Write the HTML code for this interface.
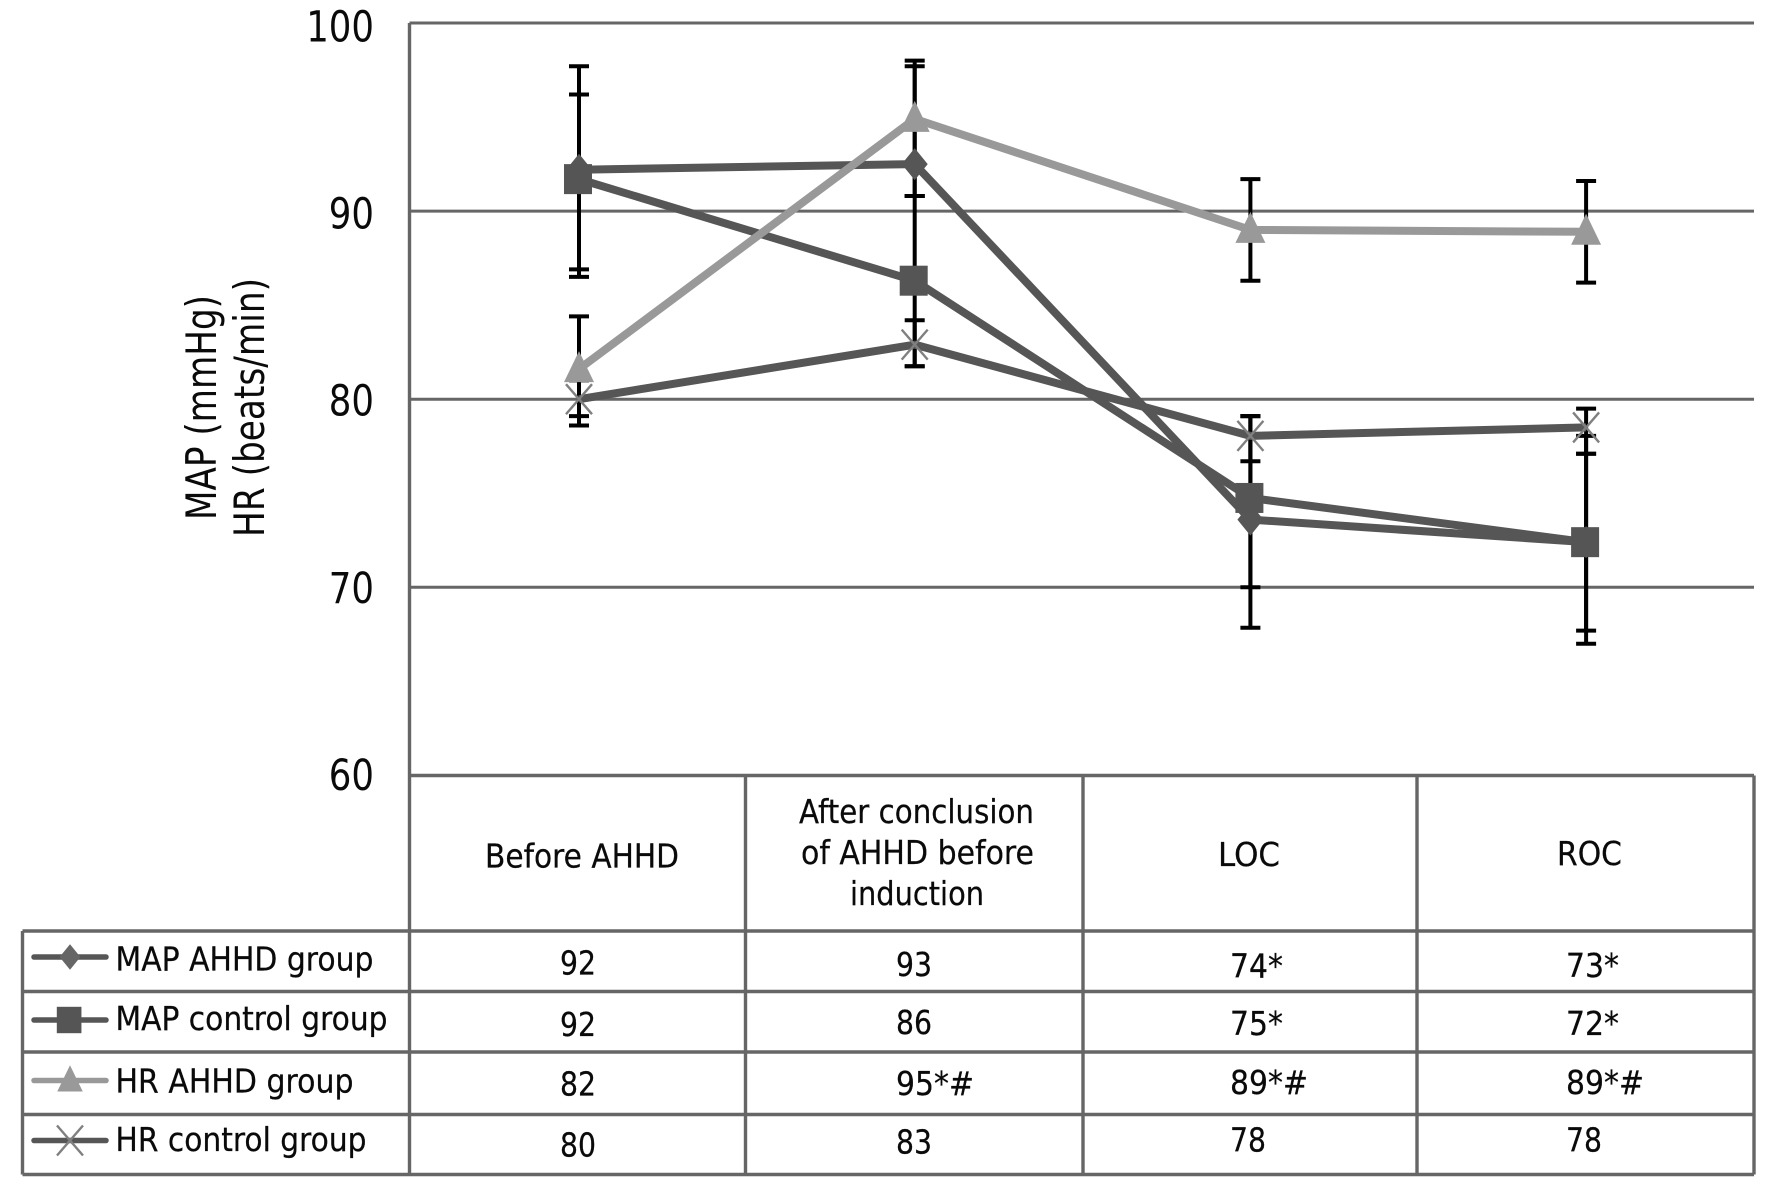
<!DOCTYPE html>
<html lang="en">
<head>
<meta charset="utf-8">
<title>MAP and HR over time</title>
<style>
html,body{margin:0;padding:0;background:#fff;width:1772px;height:1204px;overflow:hidden}
svg{display:block}
text{font-family:"DejaVu Sans","Liberation Sans",sans-serif;fill:#0a0a0a}
.cell{font-size:33px;stroke:#0a0a0a;stroke-width:.25px}
</style>
</head>
<body>
<svg id="chart" xmlns="http://www.w3.org/2000/svg" width="1772" height="1204" viewBox="0 0 1772 1204">
  <g id="grid"></g>
  <g id="table-lines" stroke="#666" stroke-width="3.4" fill="none">
    <path d="M409.5 775.5H1754M22.5 931H1754M22.5 991.5H1754M22.5 1052H1754M22.5 1114.5H1754M22.5 1174.5H1754"/>
    <path d="M22.5 931V1174.5M409.5 23V1174.5M745.5 775.5V1174.5M1083 775.5V1174.5M1417 775.5V1174.5M1754 775.5V1174.5"/>
  </g>
  <g id="y-ticks"></g>
  <g id="errors"></g>
  <g id="series"></g>

  <text transform="translate(216 520) rotate(-90)" font-size="42" textLength="225" lengthAdjust="spacingAndGlyphs">MAP (mmHg)</text>
  <text transform="translate(264 537) rotate(-90)" font-size="42" textLength="259" lengthAdjust="spacingAndGlyphs">HR (beats/min)</text>

  <g>
    <text class="cell" x="485" y="867.5" textLength="194" lengthAdjust="spacingAndGlyphs">Before AHHD</text>
    <text class="cell" x="799" y="823" textLength="235" lengthAdjust="spacingAndGlyphs">After conclusion</text>
    <text class="cell" x="801" y="864" textLength="233" lengthAdjust="spacingAndGlyphs">of AHHD before</text>
    <text class="cell" x="850" y="905" textLength="134" lengthAdjust="spacingAndGlyphs">induction</text>
    <text class="cell" x="1218" y="866" textLength="62" lengthAdjust="spacingAndGlyphs">LOC</text>
    <text class="cell" x="1557" y="865" textLength="65" lengthAdjust="spacingAndGlyphs">ROC</text>
  </g>

  <g>
    <text class="cell" x="115.5" y="970.5" textLength="258" lengthAdjust="spacingAndGlyphs">MAP AHHD group</text>
    <text class="cell" x="115.5" y="1030" textLength="272" lengthAdjust="spacingAndGlyphs">MAP control group</text>
    <text class="cell" x="115.5" y="1092.5" textLength="238" lengthAdjust="spacingAndGlyphs">HR AHHD group</text>
    <text class="cell" x="115.5" y="1151" textLength="251" lengthAdjust="spacingAndGlyphs">HR control group</text>
    <g id="legend-marks"></g>
  </g>

  <g>
    <text class="cell" x="560" y="974.5" textLength="36" lengthAdjust="spacingAndGlyphs">92</text>
    <text class="cell" x="560" y="1036" textLength="36" lengthAdjust="spacingAndGlyphs">92</text>
    <text class="cell" x="560" y="1095.5" textLength="36" lengthAdjust="spacingAndGlyphs">82</text>
    <text class="cell" x="560" y="1156.5" textLength="36" lengthAdjust="spacingAndGlyphs">80</text>

    <text class="cell" x="896" y="976" textLength="36" lengthAdjust="spacingAndGlyphs">93</text>
    <text class="cell" x="896" y="1034" textLength="36" lengthAdjust="spacingAndGlyphs">86</text>
    <text class="cell" x="896" y="1095" textLength="78" lengthAdjust="spacingAndGlyphs">95*#</text>
    <text class="cell" x="896" y="1153.5" textLength="36" lengthAdjust="spacingAndGlyphs">83</text>

    <text class="cell" x="1230" y="977.5" textLength="53" lengthAdjust="spacingAndGlyphs">74*</text>
    <text class="cell" x="1230" y="1035" textLength="53" lengthAdjust="spacingAndGlyphs">75*</text>
    <text class="cell" x="1230" y="1094" textLength="78" lengthAdjust="spacingAndGlyphs">89*#</text>
    <text class="cell" x="1230" y="1151.5" textLength="36" lengthAdjust="spacingAndGlyphs">78</text>

    <text class="cell" x="1566" y="977" textLength="53" lengthAdjust="spacingAndGlyphs">73*</text>
    <text class="cell" x="1566" y="1035" textLength="53" lengthAdjust="spacingAndGlyphs">72*</text>
    <text class="cell" x="1566" y="1094" textLength="78" lengthAdjust="spacingAndGlyphs">89*#</text>
    <text class="cell" x="1566" y="1151.5" textLength="36" lengthAdjust="spacingAndGlyphs">78</text>
  </g>
</svg>

<script>
var categories = ['Before AHHD', 'After conclusion of AHHD before induction', 'LOC', 'ROC'];
var yTicks = [100, 90, 80, 70, 60];

var mapAhhd = [92.2, 92.5, 73.6, 72.4];
var mapControl = [91.7, 86.3, 74.75, 72.4];
var hrAhhd = [81.6, 94.9, 89.0, 88.9];
var hrControl = [80.0, 82.9, 78.05, 78.5];

var mapAhhdHigh = [96.2, 97.7, 79.1, 78.05];
var mapAhhdLow = [86.5, 90.8, 67.85, 67.0];
var mapControlHigh = [97.7, 90.8, 79.1, 77.1];
var mapControlLow = [86.9, 81.75, 70.0, 67.7];
var hrAhhdHigh = [84.4, 98.0, 91.7, 91.6];
var hrAhhdLow = [78.6, 90.8, 86.3, 86.2];
var hrControlHigh = [81.0, 84.2, 79.1, 79.5];
var hrControlLow = [79.1, 81.75, 76.7, 77.1];

var NS = 'http://www.w3.org/2000/svg';
function xAxis(i) { return 579 + i * 335.7; }
function yAxis(v) { return 23 + (100 - v) * 18.81; }
function make(tag, attrs, parent) {
  var el = document.createElementNS(NS, tag);
  for (var k in attrs) el.setAttribute(k, attrs[k]);
  parent.appendChild(el);
  return el;
}

var grid = document.getElementById('grid');
var tickGroup = document.getElementById('y-ticks');
yTicks.forEach(function (t) {
  if (t !== 60) {
    var g = make('line', { x1: 409.5, x2: 1754, y1: yAxis(t), y2: yAxis(t), stroke: '#666', 'stroke-width': 3 }, grid);
    
    
  }
  var digits = String(t).length;
  var lab = make('text', { x: 374, y: yAxis(t) + 18.5 - (100 - t) * 0.1, 'text-anchor': 'end', 'font-size': 43, textLength: digits * 22.6, lengthAdjust: 'spacingAndGlyphs' }, tickGroup);
  lab.textContent = t;
  
  
});

function marker(kind, cx, cy, color, parent, scale) {
  var s = scale || 1;
  var el;
  if (kind === 'diamond') {
    el = make('polygon', { points: [cx, cy - 16 * s, cx + 13 * s, cy, cx, cy + 16 * s, cx - 13 * s, cy].join(' '), fill: color }, parent);
  } else if (kind === 'square') {
    el = make('rect', { x: cx - 15 * s, y: cy - 15 * s, width: 28 * s, height: 30 * s, fill: color }, parent);
  } else if (kind === 'triangle') {
    el = make('polygon', { points: [cx, cy - 18 * s, cx + 15 * s, cy + 13 * s, cx - 15 * s, cy + 13 * s].join(' '), fill: color }, parent);
  } else {
    el = make('path', { d: 'M' + (cx - 13) + ' ' + (cy - 15) + 'L' + (cx + 13) + ' ' + (cy + 15) + 'M' + (cx + 13) + ' ' + (cy - 15) + 'L' + (cx - 13) + ' ' + (cy + 15), stroke: color, 'stroke-width': 2.4, fill: 'none' }, parent);
  }
  return el;
}

var errGroup = document.getElementById('errors');
function drawErrors(name, highs, lows) {
  highs.forEach(function (h, i) {
    var x = xAxis(i);
    var bar = make('path', {
      d: 'M' + x + ' ' + yAxis(h) + 'V' + yAxis(lows[i]) +
         'M' + (x - 10) + ' ' + yAxis(h) + 'H' + (x + 10) +
         'M' + (x - 10) + ' ' + yAxis(lows[i]) + 'H' + (x + 10),
      stroke: '#000', 'stroke-width': 4, fill: 'none'
    }, errGroup);
    
    
  });
}
drawErrors('map-ahhd', mapAhhdHigh, mapAhhdLow);
drawErrors('map-control', mapControlHigh, mapControlLow);
drawErrors('hr-ahhd', hrAhhdHigh, hrAhhdLow);
drawErrors('hr-control', hrControlHigh, hrControlLow);

var seriesGroup = document.getElementById('series');
function drawSeries(name, values, color, kind, markColor) {
  var pts = values.map(function (v, i) { return xAxis(i) + ',' + yAxis(v); }).join(' ');
  var line = make('polyline', { points: pts, fill: 'none', stroke: color, 'stroke-width': 8, 'stroke-linejoin': 'round' }, seriesGroup);
  
  
  values.forEach(function (v, i) {
    var m = marker(kind, xAxis(i), yAxis(v), markColor, seriesGroup);
    
    
  });
}
drawSeries('map-ahhd', mapAhhd, '#565656', 'diamond', '#565656');
drawSeries('map-control', mapControl, '#565656', 'square', '#555555');
drawSeries('hr-ahhd', hrAhhd, '#999999', 'triangle', '#999999');
drawSeries('hr-control', hrControl, '#565656', 'cross', '#808080');

var legendGroup = document.getElementById('legend-marks');
function drawKey(name, cy, color, kind, markColor, scale) {
  var l = make('line', { x1: 34, x2: 106, y1: cy, y2: cy, stroke: color, 'stroke-width': 5.5, 'stroke-linecap': 'round' }, legendGroup);
  
  
  var m = marker(kind, 70, cy, markColor, legendGroup, scale);
  
  
}
drawKey('map-ahhd', 957, '#565656', 'diamond', '#666666', 0.8);
drawKey('map-control', 1020, '#565656', 'square', '#555555', 0.88);
drawKey('hr-ahhd', 1080.5, '#999999', 'triangle', '#999999', 0.85);
drawKey('hr-control', 1140.5, '#565656', 'cross', '#808080', 1);
</script>
</body>
</html>
